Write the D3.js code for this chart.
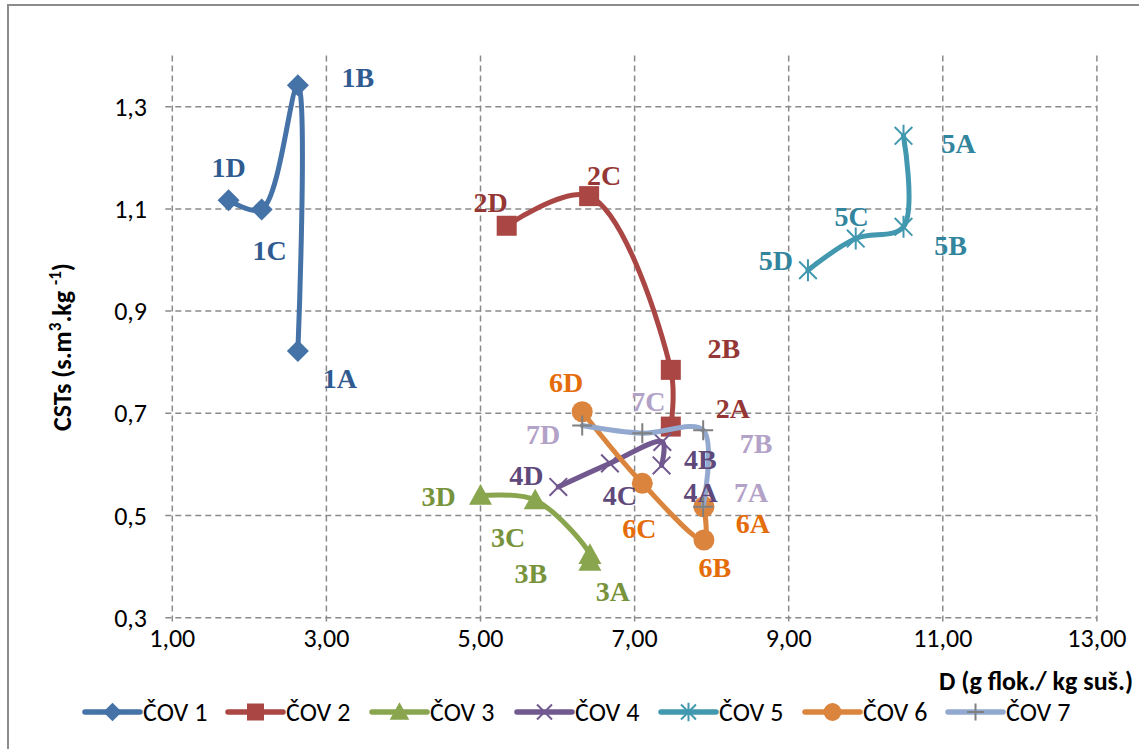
<!DOCTYPE html>
<html>
<head>
<meta charset="utf-8">
<script src="https://cdn.jsdelivr.net/npm/d3@7"></script>
<style>
  body { margin: 0; background: #fff; }
  svg { display: block; }
  .tick-label { font-family: Carlito, Calibri, Lato, sans-serif; font-size: 26px; fill: #000; }
  .axis-title { font-family: Carlito, Calibri, Lato, sans-serif; font-size: 26px; font-weight: bold; fill: #000; }
  .legend-text { font-family: Carlito, Calibri, Lato, sans-serif; font-size: 26px; fill: #000; }
  .point-label { font-family: "Liberation Serif", "Times New Roman", serif; font-size: 28px; font-weight: bold; }
</style>
</head>
<body>
<svg id="chart" width="1139" height="749"></svg>
<script>
// axis ticks
const xTicks = [1, 3, 5, 7, 9, 11, 13];
const yTicks = [0.3, 0.5, 0.7, 0.9, 1.1, 1.3];

const seriesNames = ["ČOV 1", "ČOV 2", "ČOV 3", "ČOV 4", "ČOV 5", "ČOV 6", "ČOV 7"];

// points in order A -> B -> C -> D
const cov1 = [
  {label: "1A", x: 2.63, y: 0.822},
  {label: "1B", x: 2.63, y: 1.342},
  {label: "1C", x: 2.16, y: 1.099},
  {label: "1D", x: 1.73, y: 1.117}
];
const cov2 = [
  {label: "2A", x: 7.47, y: 0.674},
  {label: "2B", x: 7.47, y: 0.785},
  {label: "2C", x: 6.41, y: 1.125},
  {label: "2D", x: 5.34, y: 1.067}
];
const cov3 = [
  {label: "3A", x: 6.42, y: 0.410},
  {label: "3B", x: 6.42, y: 0.423},
  {label: "3C", x: 5.71, y: 0.530},
  {label: "3D", x: 5.00, y: 0.539}
];
const cov4 = [
  {label: "4A", x: 7.35, y: 0.598},
  {label: "4B", x: 7.36, y: 0.644},
  {label: "4C", x: 6.68, y: 0.602},
  {label: "4D", x: 6.01, y: 0.556}
];
const cov5 = [
  {label: "5A", x: 10.49, y: 1.243},
  {label: "5B", x: 10.49, y: 1.065},
  {label: "5C", x: 9.87, y: 1.042},
  {label: "5D", x: 9.25, y: 0.980}
];
const cov6 = [
  {label: "6A", x: 7.90, y: 0.517},
  {label: "6B", x: 7.90, y: 0.452},
  {label: "6C", x: 7.10, y: 0.563},
  {label: "6D", x: 6.32, y: 0.703}
];
const cov7 = [
  {label: "7A", x: 7.89, y: 0.517},
  {label: "7B", x: 7.89, y: 0.667},
  {label: "7C", x: 7.10, y: 0.661},
  {label: "7D", x: 6.32, y: 0.676}
];

const seriesData = [cov1, cov2, cov3, cov4, cov5, cov6, cov7];

// styling per series
const lineColors = ["#4572A7", "#AA4643", "#89A54E", "#71588F", "#4198AF", "#DB843D", "#93A9CF"];
const markerColors = ["#4572A7", "#AA4643", "#89A54E", "#71588F", "#4198AF", "#DB843D", "#808080"];
const labelColors = ["#2F5B91", "#953735", "#77933C", "#5F497A", "#31859C", "#E46C0A", "#B3A2C7"];
const markerTypes = ["diamond", "square", "triangle", "x", "star", "circle", "plus"];

// manual label placement (px offsets from point)
const labelOffsets = {
  "1A": [42, 27], "1B": [60, -8], "1C": [8, 41], "1D": [0, -33],
  "2A": [62, -19], "2B": [53, -22], "2C": [15, -21], "2D": [-16, -24],
  "3A": [23, 30], "3B": [-59, 18], "3C": [-27, 37], "3D": [-42, 0],
  "4A": [39, 27], "4B": [38, 17], "4C": [10, 32], "4D": [-32, -12],
  "5A": [55, 7], "5B": [47, 18], "5C": [-4, -23], "5D": [-32, -10],
  "6A": [49, 16], "6B": [11, 27], "6C": [-3, 45], "6D": [-16, -30],
  "7A": [48, -15], "7B": [53, 13], "7C": [6, -32], "7D": [-39, 8]
};

const svg = d3.select("#chart");

const x = d3.scaleLinear().domain([1, 13]).range([172.3, 1096.9]);
const y = d3.scaleLinear().domain([0.3, 1.4]).range([617.7, 55.6]);

const comma = f => s => d3.format(f)(s).replace(".", ",");

// outer frame
svg.append("rect")
  .attr("x", 8).attr("y", 5)
  .attr("width", 1300).attr("height", 900)
  .attr("fill", "none")
  .attr("stroke", "#8c8c8c")
  .attr("stroke-width", 2);

// grid
const grid = svg.append("g")
  .attr("stroke", "#8a8a8a")
  .attr("stroke-width", 1.5)
  .attr("stroke-dasharray", "6,4");

grid.selectAll("line.v")
  .data(xTicks)
  .join("line")
    .attr("class", "v")
    .attr("x1", d => x(d)).attr("x2", d => x(d))
    .attr("y1", y(1.4)).attr("y2", y(0.3) + 7);

grid.selectAll("line.h")
  .data(yTicks)
  .join("line")
    .attr("class", "h")
    .attr("x1", x(1) - 7).attr("x2", x(13))
    .attr("y1", d => y(d)).attr("y2", d => y(d));

// tick labels
svg.append("g").selectAll("text")
  .data(xTicks)
  .join("text")
    .attr("class", "tick-label")
    .attr("x", d => x(d))
    .attr("y", 647)
    .attr("text-anchor", "middle")
    .text(comma(".2f"));

svg.append("g").selectAll("text")
  .data(yTicks)
  .join("text")
    .attr("class", "tick-label")
    .attr("x", 147)
    .attr("y", d => y(d) + 9)
    .attr("text-anchor", "end")
    .text(comma(".1f"));

// axis titles
svg.append("text")
  .attr("class", "axis-title")
  .attr("x", 1133).attr("y", 690)
  .attr("text-anchor", "end")
  .text("D (g flok./ kg suš.)");

const yt = svg.append("text")
  .attr("class", "axis-title")
  .attr("transform", "translate(71,347) rotate(-90)")
  .attr("text-anchor", "middle");
yt.append("tspan").text("CSTs (s.m");
yt.append("tspan").attr("dy", -10).attr("font-size", 17).text("3");
yt.append("tspan").attr("dy", 10).text(".kg ");
yt.append("tspan").attr("dy", -10).attr("font-size", 17).text("-1");
yt.append("tspan").attr("dy", 10).text(")");

// markers
function drawMarker(g, type, color, s) {
  if (type === "diamond") {
    g.append("path").attr("d", `M0,${-s}L${s},0L0,${s}L${-s},0Z`).attr("fill", color);
  } else if (type === "square") {
    g.append("rect").attr("x", -s).attr("y", -s).attr("width", 2 * s).attr("height", 2 * s).attr("fill", color);
  } else if (type === "triangle") {
    g.append("path").attr("d", `M0,${-s}L${s},${s * 0.8}L${-s},${s * 0.8}Z`).attr("fill", color);
  } else if (type === "circle") {
    g.append("circle").attr("r", s).attr("fill", color);
  } else {
    let r = s * 0.8;
    let p = "";
    if (type === "x" || type === "star") p += `M${-r},${-r}L${r},${r}M${-r},${r}L${r},${-r}`;
    if (type === "star") p += `M0,${-s}L0,${s}`;
    if (type === "plus") p += `M0,${-s}L0,${s}M${-s},0L${s},0`;
    g.append("path").attr("d", p).attr("stroke", color).attr("stroke-width", 2).attr("fill", "none");
  }
}

const markerSize = [11, 10, 11.5, 11, 11, 10.5, 10];

const line = d3.line()
  .x(d => x(d.x))
  .y(d => y(d.y))
  .curve(d3.curveCatmullRom.alpha(0.5));

const plot = svg.append("g");

seriesData.forEach((pts, i) => {
  const sg = plot.append("g").attr("class", "series");
  sg.append("path")
    .attr("d", line(pts))
    .attr("fill", "none")
    .attr("stroke", lineColors[i])
    .attr("stroke-width", 5)
    .attr("stroke-linecap", "round")
    .attr("stroke-linejoin", "round");

  sg.selectAll("g.marker")
    .data(pts)
    .join("g")
      .attr("class", "marker")
      .attr("transform", d => `translate(${x(d.x)},${y(d.y)})`)
      .each(function() { drawMarker(d3.select(this), markerTypes[i], markerColors[i], markerSize[i]); });
});

// point labels
seriesData.forEach((pts, i) => {
  plot.append("g").selectAll("text")
    .data(pts)
    .join("text")
      .attr("class", "point-label")
      .attr("fill", labelColors[i])
      .attr("text-anchor", "middle")
      .attr("x", d => x(d.x) + labelOffsets[d.label][0])
      .attr("y", d => y(d.y) + labelOffsets[d.label][1] + 10)
      .text(d => d.label);
});

// legend
const legendX = [85, 228, 372, 517, 661, 805, 948];
const legend = svg.append("g").selectAll("g")
  .data(seriesNames)
  .join("g")
    .attr("transform", (d, i) => `translate(${legendX[i]},712)`);

legend.append("line")
  .attr("x1", 0).attr("x2", 55)
  .attr("stroke", (d, i) => lineColors[i])
  .attr("stroke-width", 5.5)
  .attr("stroke-linecap", "round");

legend.append("g")
  .attr("transform", "translate(27.5,0)")
  .each(function(d, i) { drawMarker(d3.select(this), markerTypes[i], markerColors[i], markerSize[i] * 0.85); });

legend.append("text")
  .attr("class", "legend-text")
  .attr("x", 58)
  .attr("y", 9)
  .text(d => d);
</script>
</body>
</html>
